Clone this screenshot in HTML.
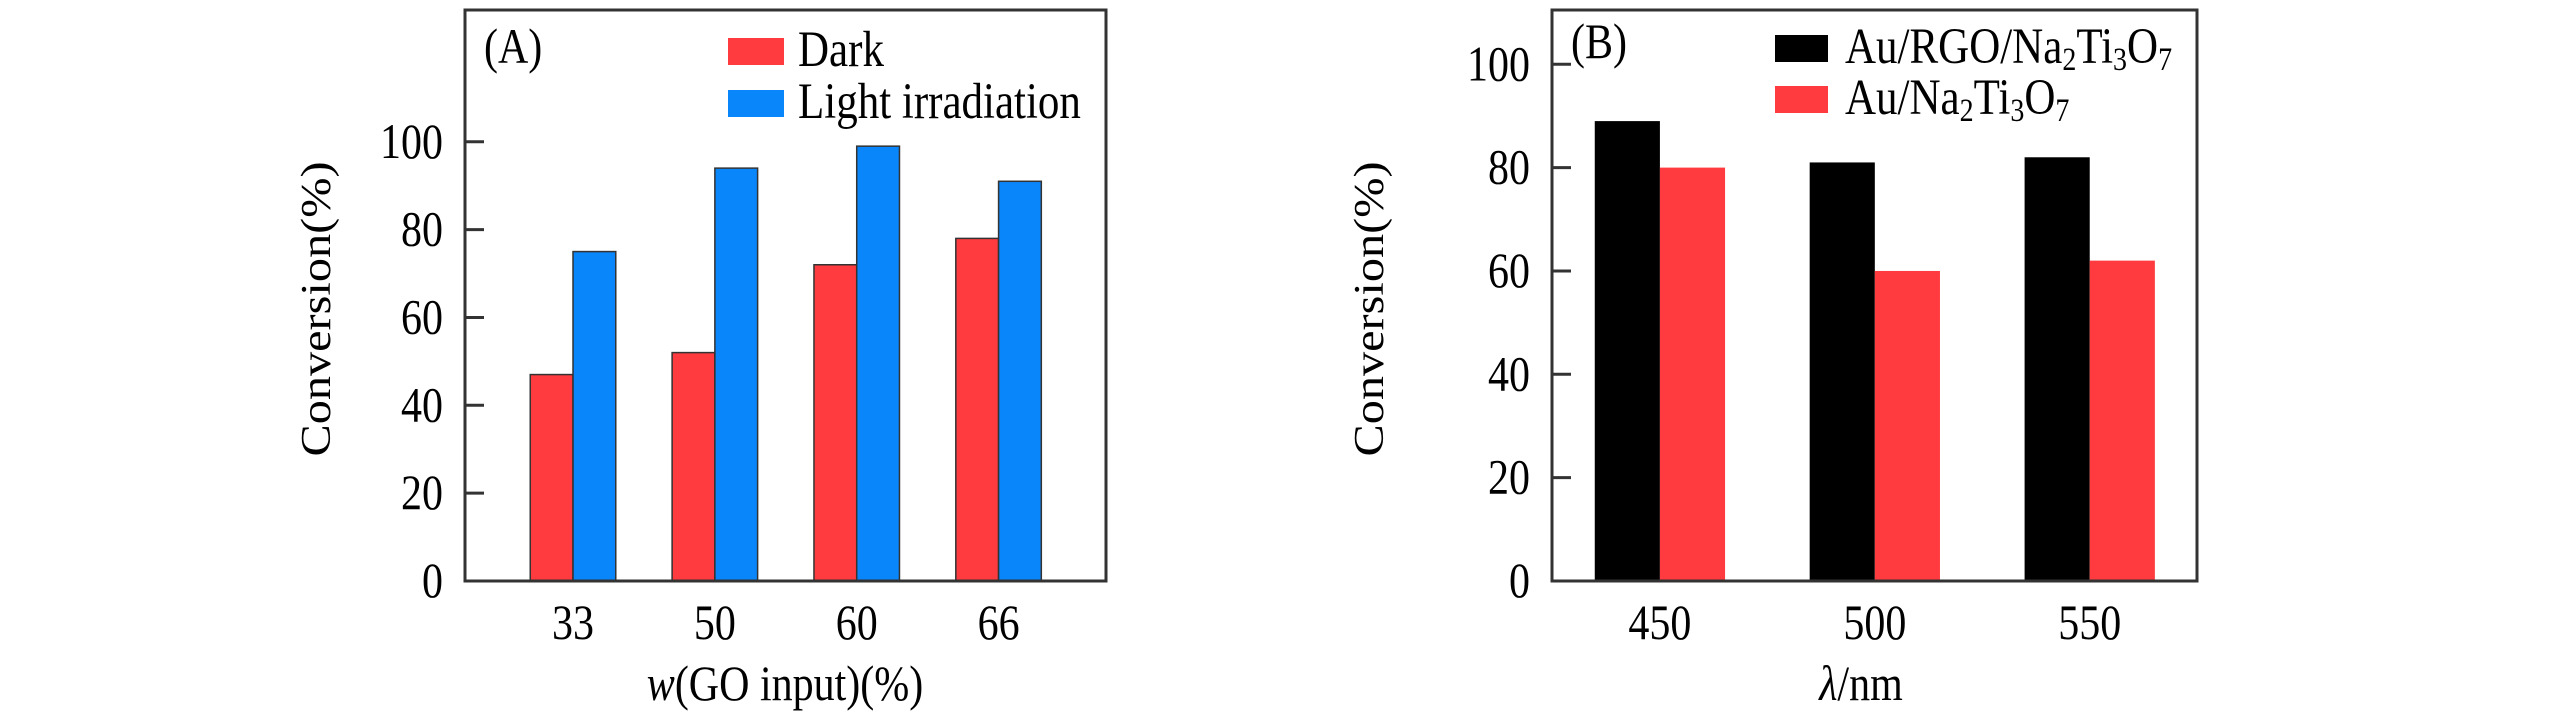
<!DOCTYPE html>
<html><head><meta charset="utf-8"><style>
html,body{margin:0;padding:0;background:#fff;}
svg{display:block;}
text{font-family:"Liberation Serif",serif;fill:#000;}
</style></head><body>
<svg id="fig" width="2567" height="720" viewBox="0 0 2567 720" xmlns="http://www.w3.org/2000/svg"></svg>
<script>
// Panel A data
const catsA = ["33","50","60","66"];
const darkA = [47, 52, 72, 78];
const lightA = [75, 94, 99, 91];
const yTicksA = [0,20,40,60,80,100];
// Panel B data
const catsB = ["450","500","550"];
const rgoB = [89, 81, 82];
const naB = [80, 60, 62];
const yTicksB = [0,20,40,60,80,100];

const NS="http://www.w3.org/2000/svg";
const svg=document.getElementById('fig');
function el(tag,attrs,parent){const e=document.createElementNS(NS,tag);for(const k in attrs)e.setAttribute(k,attrs[k]);(parent||svg).appendChild(e);return e;}
function txt(parent,x,y,s,size,anchor){
  const g=el('g',{transform:`translate(${x},${y}) scale(1,1.18)`},parent);
  const t=el('text',{x:0,y:0,'font-size':size,'text-anchor':anchor||'start'},g);
  t.innerHTML=s;return t;
}

function panel(o){
  const g=el('g',{});
  
  
  const L=o.left,R=o.right,T=o.top,B=o.bottom,W=R-L;
  const y=v=>B-(v/o.ymax)*(B-T);
  const xc=i=>L+W*(o.c0+i*o.cs);
  o.series.forEach((s,si)=>{
    s.vals.forEach((v,i)=>{
      const bx = si===0 ? xc(i)-o.bw*W : xc(i);
      const r=el('rect',{x:bx,y:y(v),width:o.bw*W,height:B-y(v),fill:s.color,stroke:o.stroke,'stroke-width':o.stroke==='none'?0:1.5},g);
      
      
    });
  });
  const ax=el('rect',{x:L,y:T,width:W,height:B-T,fill:'none',stroke:'#333','stroke-width':3},g);
  
  
  o.ticks.forEach(t=>{
    const tk=el('line',{x1:L,x2:L+19,y1:y(t),y2:y(t),stroke:'#333','stroke-width':3},g);
    
    
    const lb=txt(g,L-22,y(t)+16,String(t),42,'end');
    
    
  });
  o.cats.forEach((c,i)=>{
    const lb=txt(g,xc(i),639,c,42,'middle');
    
    
  });
  const yt=el('text',{x:0,y:0,'font-size':42,'text-anchor':'middle',transform:`translate(${o.ytx},309) rotate(-90) scale(1.15,1)`},g);
  yt.textContent='Conversion(%)';
  
  
  const xt=txt(g,o.xtx,700,o.xtitle,42,'middle');
  
  
  const pl=txt(g,o.plx,o.ply,o.plabel,42,'start');
  
  
  o.series.forEach((s,si)=>{
    const lg=el('g',{},g);
    
    
    el('rect',{x:o.lgx,y:o.lgy[si],width:o.lgw,height:27,fill:s.color},lg);
    txt(lg,o.lgtx,o.lgy[si]+28,s.label,43,'start');
  });
}

panel({name:'panel-a',left:465,right:1106,top:10,bottom:581,ymax:130,
  c0:0.1685,cs:0.2213,bw:0.0667,stroke:'#333',cats:catsA,ticks:yTicksA,
  series:[{key:'dark',vals:darkA,color:'#ff3b3f',label:'Dark'},{key:'light',vals:lightA,color:'#0a86fb',label:'Light irradiation'}],
  ytx:330,xtx:785,xtitle:'<tspan font-style="italic">w</tspan>(GO input)(%)',
  plx:484,ply:63,plabel:'(A)',lgx:728,lgw:56,lgy:[38,90],lgtx:798});

panel({name:'panel-b',left:1552,right:2197,top:10,bottom:581,ymax:110.5,
  c0:0.1673,cs:0.3332,bw:0.101,stroke:'none',cats:catsB,ticks:yTicksB,
  series:[{key:'au-rgo',vals:rgoB,color:'#000',label:'Au/RGO/Na<tspan font-size="28" dy="6">2</tspan><tspan dy="-6">Ti</tspan><tspan font-size="28" dy="6">3</tspan><tspan dy="-6">O</tspan><tspan font-size="28" dy="6">7</tspan>'},
          {key:'au-na',vals:naB,color:'#ff3b3f',label:'Au/Na<tspan font-size="28" dy="6">2</tspan><tspan dy="-6">Ti</tspan><tspan font-size="28" dy="6">3</tspan><tspan dy="-6">O</tspan><tspan font-size="28" dy="6">7</tspan>'}],
  ytx:1383,xtx:1861,xtitle:'<tspan font-style="italic">λ</tspan>/nm',
  plx:1571,ply:58,plabel:'(B)',lgx:1775,lgw:53,lgy:[35,86],lgtx:1845});
</script>
</body></html>
